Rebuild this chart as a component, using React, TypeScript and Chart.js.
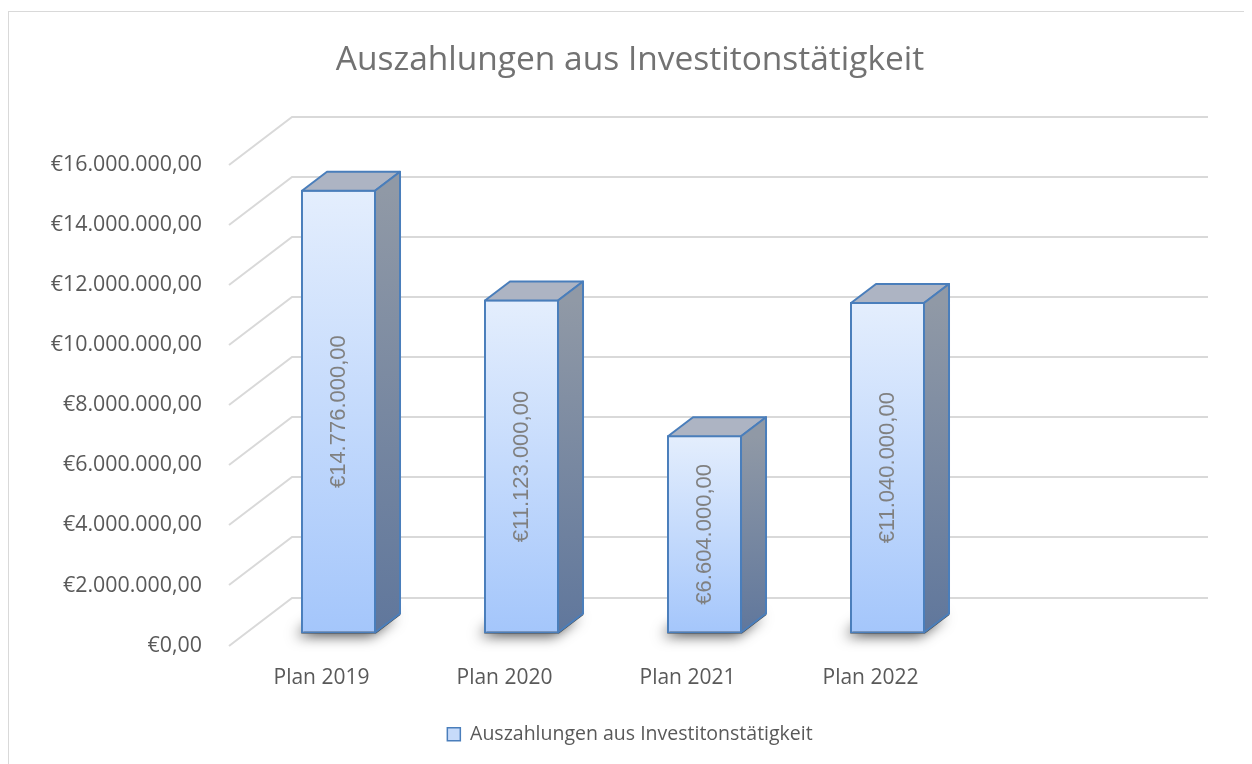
import { useEffect, useRef } from 'react';
import { Chart, registerables } from 'chart.js';

Chart.register(...registerables);

const TITLE = 'Auszahlungen aus Investitonstätigkeit';
const SERIES_LABEL = 'Auszahlungen aus Investitonstätigkeit';
const CATEGORIES = ['Plan 2019', 'Plan 2020', 'Plan 2021', 'Plan 2022'];
const VALUES = [14776000, 11123000, 6604000, 11040000];
const Y_TICKS = [0, 2000000, 4000000, 6000000, 8000000, 10000000, 12000000, 14000000, 16000000];

const FONT = '"Open Sans", "Noto Sans", sans-serif';
const TEXT = '#595959';

// 3D projection vectors (pixels)
const FLOOR = { dx: 63, dy: -48 };
const SHIFT = { dx: 17, dy: -12 };
const DEPTH = { dx: 25, dy: -19 };

function formatEuro(v: number): string {
  const fixed = Math.abs(v).toFixed(2);
  const [intPart, dec] = fixed.split('.');
  const withDots = intPart.replace(/\B(?=(\d{3})+(?!\d))/g, '.');
  return '€' + withDots + ',' + dec;
}

const threeD = {
  id: 'threeD',
  beforeDraw(chart: any) {
    const ctx = chart.ctx;
    ctx.save();
    ctx.strokeStyle = '#d9d9d9';
    ctx.lineWidth = 1;
    ctx.strokeRect(0.5, 3.5, chart.width + 20, chart.height + 20);
    ctx.restore();
  },
  beforeDatasetsDraw(chart: any) {
    const { ctx, chartArea, scales } = chart;
    const y = scales.y;
    const n = chart.data.labels.length;
    const right = chartArea.right + chartArea.width / n + FLOOR.dx;
    ctx.save();
    ctx.strokeStyle = '#d9d9d9';
    ctx.lineWidth = 2;
    y.ticks.forEach((t: any) => {
      const py = Math.round(y.getPixelForValue(t.value));
      ctx.beginPath();
      ctx.moveTo(chartArea.left - 1, py);
      ctx.lineTo(chartArea.left - 1 + FLOOR.dx, py + FLOOR.dy);
      ctx.lineTo(right, py + FLOOR.dy);
      ctx.stroke();
    });
    const meta = chart.getDatasetMeta(0);
    meta.data.forEach((bar: any) => {
      const { x, width, base } = bar.getProps(['x', 'width', 'base'], true);
      const x0 = x - width / 2 + SHIFT.dx;
      const x1 = x + width / 2 + SHIFT.dx;
      const yb = base + SHIFT.dy;
      ctx.save();
      ctx.shadowColor = 'rgba(0,0,0,0.75)';
      ctx.shadowBlur = 14;
      ctx.shadowOffsetX = -5;
      ctx.shadowOffsetY = 2;
      ctx.fillStyle = 'rgba(70,70,70,1)';
      ctx.beginPath();
      ctx.moveTo(x0, yb);
      ctx.lineTo(x1, yb);
      ctx.lineTo(x1 + DEPTH.dx, yb + DEPTH.dy);
      ctx.lineTo(x0 + DEPTH.dx, yb + DEPTH.dy);
      ctx.closePath();
      ctx.fill();
      ctx.restore();
    });
    ctx.restore();
    ctx.save();
    ctx.translate(SHIFT.dx, SHIFT.dy);
  },
  afterDatasetsDraw(chart: any) {
    const { ctx } = chart;
    const meta = chart.getDatasetMeta(0);
    const data = chart.data.datasets[0].data;
    meta.data.forEach((bar: any, i: number) => {
      const { x, y, width, base } = bar.getProps(['x', 'y', 'width', 'base'], true);
      const L = x - width / 2 + 1;
      const R = x + width / 2 - 1;
      const T = y + 1;
      const B = base - 1;
      ctx.save();
      ctx.lineJoin = 'round';
      ctx.strokeStyle = '#4a7ebb';
      ctx.lineWidth = 2;
      // top face
      ctx.beginPath();
      ctx.moveTo(L, T);
      ctx.lineTo(L + DEPTH.dx, T + DEPTH.dy);
      ctx.lineTo(R + DEPTH.dx, T + DEPTH.dy);
      ctx.lineTo(R, T);
      ctx.closePath();
      ctx.fillStyle = '#adb4c3';
      ctx.fill();
      ctx.stroke();
      // side face
      const g = ctx.createLinearGradient(0, T, 0, B);
      g.addColorStop(0, '#9099a6');
      g.addColorStop(1, '#60779c');
      ctx.beginPath();
      ctx.moveTo(R, T);
      ctx.lineTo(R + DEPTH.dx, T + DEPTH.dy);
      ctx.lineTo(R + DEPTH.dx, B + DEPTH.dy);
      ctx.lineTo(R, B);
      ctx.closePath();
      ctx.fillStyle = g;
      ctx.fill();
      ctx.stroke();
      // data label
      ctx.translate(x, (y + base) / 2);
      ctx.rotate(-Math.PI / 2);
      ctx.font = '22px "Liberation Sans", Arial, sans-serif';
      ctx.fillStyle = '#808080';
      ctx.textAlign = 'center';
      ctx.textBaseline = 'middle';
      ctx.fillText(formatEuro(data[i] as number), 0, 0);
      ctx.restore();
    });
    ctx.restore();
  },
};

export default function App() {
  const ref = useRef<HTMLCanvasElement | null>(null);

  useEffect(() => {
    if (!ref.current) return;
    const chart = new Chart(ref.current, {
      type: 'bar',
      data: {
        labels: CATEGORIES,
        datasets: [
          {
            label: SERIES_LABEL,
            data: VALUES,
            backgroundColor: (c: any) => {
              const chart = c.chart;
              if (!chart.chartArea || typeof c.raw !== 'number') return '#c5d9f8';
              const top = chart.scales.y.getPixelForValue(c.raw);
              const bot = chart.scales.y.getPixelForValue(0);
              const g = chart.ctx.createLinearGradient(0, top, 0, bot);
              g.addColorStop(0, '#e4eefd');
              g.addColorStop(1, '#a4c6fb');
              return g;
            },
            borderColor: '#4a7ebb',
            borderWidth: 2,
            borderSkipped: false,
            categoryPercentage: 1,
            barPercentage: 0.41,
          },
        ],
      },
      options: {
        responsive: false,
        animation: false,
        devicePixelRatio: 1,
        layout: { padding: { left: 0, right: 0, top: 0, bottom: 10 } },
        scales: {
          x: {
            ticks: { color: TEXT, font: { size: 21, family: FONT }, padding: 20 },
            grid: { display: false, drawTicks: false },
            border: { display: false },
            afterFit: (s: any) => {
              s.height = 69;
            },
          },
          y: {
            min: Y_TICKS[0],
            max: Y_TICKS[Y_TICKS.length - 1],
            afterBuildTicks: (s: any) => {
              s.ticks = Y_TICKS.map((v) => ({ value: v }));
            },
            ticks: {
              color: TEXT,
              font: { size: 21.4, family: FONT },
              padding: 28,
              callback: (v: any) => formatEuro(Number(v)),
            },
            grid: { display: false, drawTicks: false },
            border: { display: false },
            afterFit: (s: any) => {
              s.width = 222;
            },
          },
          yRight: {
            type: 'linear',
            position: 'right',
            display: true,
            ticks: { display: false },
            grid: { display: false, drawTicks: false },
            border: { display: false },
            afterFit: (s: any) => {
              s.width = 290;
            },
          },
        },
        plugins: {
          title: {
            display: true,
            text: TITLE,
            color: '#727272',
            font: { size: 33.5, family: FONT, weight: 'normal' },
            padding: { top: 32, bottom: 84.8 },
          },
          legend: {
            position: 'bottom',
            labels: {
              color: TEXT,
              font: { size: 19.5, family: FONT },
              boxWidth: 13,
              boxHeight: 13,
              padding: 10,
              generateLabels: (chart: any) => [
                {
                  text: chart.data.datasets[0].label,
                  fillStyle: '#c7dbfa',
                  strokeStyle: '#4a7ebb',
                  lineWidth: 1.5,
                  hidden: false,
                  datasetIndex: 0,
                  fontColor: TEXT,
                },
              ],
            },
          },
          tooltip: { enabled: false },
        },
      },
      plugins: [threeD],
    } as any);
    return () => chart.destroy();
  }, []);

  return <canvas ref={ref} width={1244} height={756} style={{ display: 'block' }} />;
}
